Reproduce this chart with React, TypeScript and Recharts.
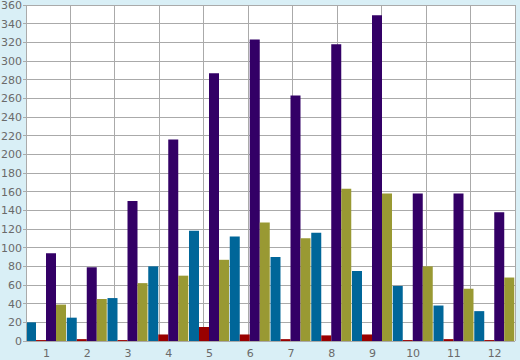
import React from 'react';
import { BarChart, Bar, XAxis, YAxis, CartesianGrid } from 'recharts';

const categories = ['1', '2', '3', '4', '5', '6', '7', '8', '9', '10', '11', '12'];
const seriesBlue = [20, 25, 46, 80, 118, 112, 90, 116, 75, 59, 38, 32];
const seriesRed = [1, 2, 1, 7, 15, 7, 2, 6, 7, 1, 2, 1];
const seriesPurple = [94, 79, 150, 216, 287, 323, 263, 318, 349, 158, 158, 138];
const seriesOlive = [39, 45, 62, 70, 87, 127, 110, 163, 158, 80, 56, 68];
const yTicks = [0, 20, 40, 60, 80, 100, 120, 140, 160, 180, 200, 220, 240, 260, 280, 300, 320, 340, 360];
const boundaryTicks = [0, 1, 2, 3, 4, 5, 6, 7, 8, 9, 10, 11, 12];

const data = categories.map((c, i) => ({
  name: c,
  blue: seriesBlue[i],
  red: seriesRed[i],
  purple: seriesPurple[i],
  olive: seriesOlive[i],
}));

const FONT = 'DejaVu Sans';
const TEXT = '#6a6a6a';
const GRID = '#aaaaaa';

export default function App() {
  return (
    <div style={{ position: 'absolute', left: 0, top: 0, width: 520, height: 360, background: '#d9eff6' }}>
      <BarChart
        width={520}
        height={360}
        data={data}
        margin={{ top: 5, right: 5, bottom: 0, left: 0 }}
        barCategoryGap={0}
        barGap={0}
      >
        <CartesianGrid
          xAxisId="grid"
          yAxisId="y"
          stroke={GRID}
          fill="#ffffff"
          fillOpacity={1}
          shapeRendering="crispEdges"
        />
        <XAxis
          xAxisId="grid"
          type="number"
          domain={[0, 12]}
          ticks={boundaryTicks}
          interval={0}
          allowDataOverflow
          height={0}
          axisLine={false}
          tickLine={{ stroke: '#888888', shapeRendering: 'crispEdges' }}
          tickSize={5}
          tickFormatter={() => ''}
        />
        <XAxis
          xAxisId="cat"
          dataKey="name"
          height={19}
          axisLine={false}
          tickLine={false}
          tickSize={6}
          tickMargin={2}
          interval={0}
          tick={{ fill: TEXT, fontSize: 11, fontFamily: FONT }}
        />
        <YAxis
          yAxisId="y"
          width={26}
          domain={[0, 360]}
          ticks={yTicks}
          interval={0}
          axisLine={{ stroke: GRID, shapeRendering: 'crispEdges' }}
          tickLine={{ stroke: GRID, shapeRendering: 'crispEdges' }}
          tickSize={3}
          tickMargin={1}
          tick={{ fill: TEXT, fontSize: 11, fontFamily: FONT }}
        />
        <Bar xAxisId="cat" yAxisId="y" dataKey="blue" fill="#006699" isAnimationActive={false} />
        <Bar xAxisId="cat" yAxisId="y" dataKey="red" fill="#990000" isAnimationActive={false} />
        <Bar xAxisId="cat" yAxisId="y" dataKey="purple" fill="#330066" isAnimationActive={false} />
        <Bar xAxisId="cat" yAxisId="y" dataKey="olive" fill="#999933" isAnimationActive={false} />
      </BarChart>
    </div>
  );
}
